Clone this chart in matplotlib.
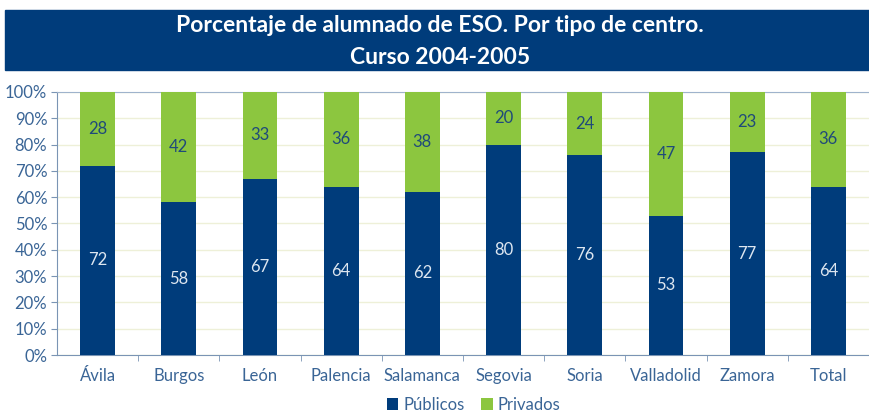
import matplotlib.pyplot as plt
import numpy as np
from matplotlib.patches import Rectangle

provincias = ["Ávila", "Burgos", "León", "Palencia", "Salamanca", "Segovia",
              "Soria", "Valladolid", "Zamora", "Total"]
publicos = [72, 58, 67, 64, 62, 80, 76, 53, 77, 64]
privados = [28, 42, 33, 36, 38, 20, 24, 47, 23, 36]
yticks = np.arange(0, 101, 10)

azul = "#003c7b"
verde = "#8cc63f"
texto = "#3a6596"

plt.rcParams["font.family"] = ["Lato", "DejaVu Sans"]

fig = plt.figure(figsize=(8.69, 4.15), dpi=100)

# title banner
fig.patches.append(Rectangle((5 / 869, 1 - 70 / 415), 1, 60 / 415,
                             transform=fig.transFigure, color=azul, zorder=0))
fig.text(0.506, 1 - 26 / 415, "Porcentaje de alumnado de ESO. Por tipo de centro.",
         ha="center", va="center", color="white", fontsize=16.5, fontweight="bold")
fig.text(0.506, 1 - 57 / 415, "Curso 2004-2005",
         ha="center", va="center", color="white", fontsize=16.5, fontweight="bold")

ax = fig.add_axes([57 / 869, 1 - 355 / 415, 1 - 57 / 869, 263 / 415])

x = np.arange(len(provincias))
w = 0.43
ax.bar(x, publicos, w, color=azul, zorder=3, label="Públicos")
ax.bar(x, privados, w, bottom=publicos, color=verde, zorder=3, label="Privados")

for i in range(len(provincias)):
    ax.text(x[i], publicos[i] / 2, str(publicos[i]), ha="center", va="center",
            color="#dde6f0", fontsize=12, zorder=4)
    ax.text(x[i], publicos[i] + privados[i] / 2, str(privados[i]), ha="center",
            va="center", color="#1f4a7a", fontsize=12, zorder=4)

ax.set_xlim(-0.5, len(provincias) - 0.6)
ax.set_ylim(0, 100)
ax.set_yticks(yticks)
ax.set_yticklabels(["%d%%" % v for v in yticks])
ax.yaxis.grid(True, color="#eef0d8", linewidth=1, zorder=0)

ax.set_xticks(x)
ax.set_xticklabels(provincias)
ax.set_xticks(np.arange(len(provincias)) + 0.5, minor=True)
ax.tick_params(axis="x", which="major", length=0, pad=9, labelsize=12, labelcolor=texto)
ax.tick_params(axis="x", which="minor", length=4, direction="out", color="#7a94b4")
ax.tick_params(axis="y", length=4, color="#7a94b4", labelsize=12, labelcolor=texto, pad=3)

for s in ["left", "bottom", "top"]:
    ax.spines[s].set_color("#7a94b4")
ax.spines["top"].set_color("#9fb3cc")
ax.spines["right"].set_visible(False)

leg = fig.legend(loc="center", bbox_to_anchor=(0.545, 1 - 405 / 415), ncol=2, frameon=False,
                 fontsize=12, handlelength=0.7, handleheight=0.7, handletextpad=0.3,
                 columnspacing=1.0)
for t in leg.get_texts():
    t.set_color(texto)

fig.savefig("out.png", dpi=100)
